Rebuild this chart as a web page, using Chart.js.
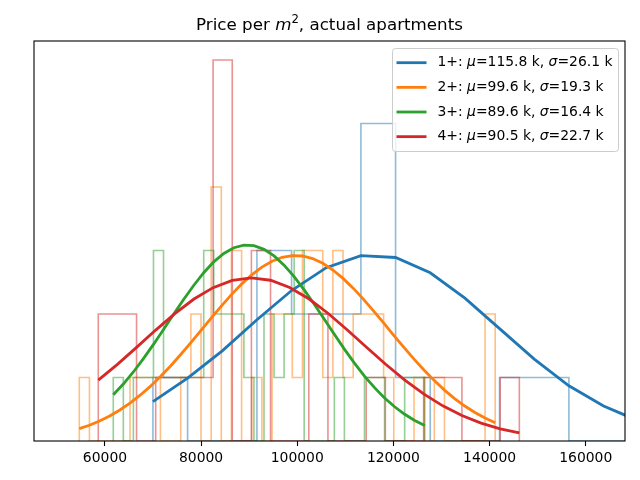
<!DOCTYPE html>
<html>
<head>
<meta charset="utf-8">
<script src="https://cdn.jsdelivr.net/npm/chart.js@4.4.0/dist/chart.umd.min.js"></script>
<style>
  html, body { margin: 0; padding: 0; background: #fff; }
</style>
</head>
<body>
<canvas id="chart" width="640" height="480"></canvas>
<script>
/* ── Data ────────────────────────────────────────────────────── */
const xTicks = [60000, 80000, 100000, 120000, 140000, 160000];
const groups = ["1+", "2+", "3+", "4+"];
const means = ["115.8", "99.6", "89.6", "90.5"];
const sigmas = ["26.1", "19.3", "16.4", "22.7"];

// histogram bins: first edge, bin width, counts per bin
const blueStart = 69980, blueWidth = 7210;
const blueCounts = [1, 0, 0, 3, 2, 2, 5, 1, 0, 0, 1, 1, 0, 0];
const orangeStart = 54660, orangeWidth = 2110;
const orangeCounts = [1, 0, 0, 0, 0, 1, 1, 1, 0, 0, 1, 2, 0, 4, 0, 3, 0, 1, 0, 2,
    2, 1, 3, 3, 1, 3, 1, 2, 2, 2, 1, 0, 0, 1, 0, 1, 0, 0, 0, 0, 2];
const greenStart = 61730, greenWidth = 2090;
const greenCounts = [1, 0, 1, 1, 3, 1, 1, 1, 1, 3, 2, 2, 2, 1, 0, 2, 1, 2, 3, 0,
    0, 0, 1, 0, 0, 1, 1, 0, 0, 1, 1];
const redStart = 58610, redWidth = 3981;
const redCounts = [2, 2, 0, 1, 1, 1, 6, 0, 3, 0, 0, 2, 0, 0, 1, 0, 0, 1, 1, 0, 0, 1];

// fitted normal curves, sampled at each bin edge (same units as counts)
const blueFit = [0.62, 0.99, 1.42, 1.91, 2.37, 2.73, 2.92, 2.89, 2.65, 2.25, 1.77,
    1.29, 0.87, 0.55, 0.32];
const orangeFit = [0.194, 0.248, 0.315, 0.394, 0.488, 0.597, 0.721, 0.860, 1.015,
    1.182, 1.362, 1.550, 1.743, 1.936, 2.125, 2.305, 2.471, 2.617, 2.738, 2.832,
    2.894, 2.921, 2.914, 2.873, 2.798, 2.693, 2.561, 2.407, 2.234, 2.050, 1.859,
    1.665, 1.474, 1.289, 1.114, 0.951, 0.802, 0.669, 0.551, 0.449, 0.361, 0.287];
const greenFit = [0.728, 0.897, 1.087, 1.297, 1.521, 1.756, 1.995, 2.229, 2.449,
    2.651, 2.822, 2.954, 3.044, 3.085, 3.077, 3.019, 2.915, 2.769, 2.588, 2.380,
    2.153, 1.917, 1.680, 1.447, 1.227, 1.023, 0.840, 0.678, 0.539, 0.421, 0.324,
    0.245];
const redFit = [0.958, 1.207, 1.475, 1.747, 2.007, 2.236, 2.415, 2.530, 2.570,
    2.532, 2.418, 2.240, 2.012, 1.753, 1.480, 1.213, 0.963, 0.742, 0.554, 0.401,
    0.282, 0.192, 0.127];

const X_MIN = 45240, X_MAX = 168170, Y_MAX = 6.3;

/* ── Colours (matplotlib tab10) ──────────────────────────────── */
const COLORS = ["#1f77b4", "#ff7f0e", "#2ca02c", "#d62728"];

function hexAlpha(hex, a) {
    const r = parseInt(hex.slice(1, 3), 16);
    const g = parseInt(hex.slice(3, 5), 16);
    const b = parseInt(hex.slice(5, 7), 16);
    return `rgba(${r},${g},${b},${a})`;
}

// step outline of a histogram: up at first edge, across each bin, down at last edge
function histPoints(start, width, counts) {
    const pts = [{ x: start, y: 0 }];
    counts.forEach((c, i) => pts.push({ x: start + i * width, y: c }));
    pts.push({ x: start + counts.length * width, y: 0 });
    return pts;
}

function fitPoints(start, width, vals) {
    return vals.map((v, i) => ({ x: start + i * width, y: v }));
}

const series = [
    { start: blueStart, width: blueWidth, counts: blueCounts, fit: blueFit },
    { start: orangeStart, width: orangeWidth, counts: orangeCounts, fit: orangeFit },
    { start: greenStart, width: greenWidth, counts: greenCounts, fit: greenFit },
    { start: redStart, width: redWidth, counts: redCounts, fit: redFit },
];

const datasets = [];
series.forEach((s, i) => {
    datasets.push({
        data: histPoints(s.start, s.width, s.counts),
        borderColor: hexAlpha(COLORS[i], 0.5),
        borderWidth: 1.6,
        stepped: true,
        pointRadius: 0,
        fill: false,
        order: 8 - i,
    });
    datasets.push({
        data: fitPoints(s.start, s.width, s.fit),
        borderColor: COLORS[i],
        borderWidth: 2.8,
        tension: 0,
        pointRadius: 0,
        fill: false,
        order: 4 - i,
    });
});

/* ── Text helpers (mixed roman / italic pieces) ──────────────── */
function drawPieces(ctx, parts, x, y, align) {
    let total = 0;
    parts.forEach(p => { ctx.font = p.font; p.w = ctx.measureText(p.text).width; total += p.w; });
    let cx = align === "center" ? x - total / 2 : x;
    parts.forEach(p => {
        ctx.font = p.font;
        ctx.fillText(p.text, cx, y + (p.dy || 0));
        cx += p.w;
    });
}

const FAMILY = "'DejaVu Sans', sans-serif";

const decorPlugin = {
    id: "decor",
    afterDraw(chart) {
        const { ctx, chartArea: a } = chart;
        ctx.save();

        // axes frame
        ctx.strokeStyle = "#000";
        ctx.lineWidth = 1.1;
        ctx.strokeRect(a.left, a.top, a.right - a.left, a.bottom - a.top);

        // title
        ctx.fillStyle = "#000";
        ctx.textBaseline = "alphabetic";
        const tf = `16.7px ${FAMILY}`;
        drawPieces(ctx, [
            { text: "Price per ", font: tf },
            { text: "m", font: `italic ${tf}` },
            { text: "2", font: `11.7px ${FAMILY}`, dy: -7 },
            { text: ", actual apartments", font: tf },
        ], (a.left + a.right) / 2, 30, "center");

        // legend
        const bx = 392.5, by = 48.5, bw = 226, bh = 103;
        ctx.beginPath();
        ctx.roundRect(bx, by, bw, bh, 3);
        ctx.fillStyle = "rgba(255,255,255,0.8)";
        ctx.fill();
        ctx.strokeStyle = "#cccccc";
        ctx.lineWidth = 1;
        ctx.stroke();

        const lf = `13.9px ${FAMILY}`;
        groups.forEach((g, i) => {
            const ry = 62.7 + i * 24.65;
            ctx.strokeStyle = COLORS[i];
            ctx.lineWidth = 2.8;
            ctx.beginPath();
            ctx.moveTo(396.5, ry);
            ctx.lineTo(426.5, ry);
            ctx.stroke();
            ctx.fillStyle = "#000";
            ctx.textBaseline = "middle";
            drawPieces(ctx, [
                { text: g + ": ", font: lf },
                { text: "\u03bc", font: `italic ${lf}` },
                { text: "=" + means[i] + " k, ", font: lf },
                { text: "\u03c3", font: `italic ${lf}` },
                { text: "=" + sigmas[i] + " k", font: lf },
            ], 437.5, ry, "left");
        });

        ctx.restore();
    }
};

new Chart(document.getElementById("chart"), {
    type: "line",
    data: { datasets },
    options: {
        responsive: false,
        animation: false,
        devicePixelRatio: 1,
        layout: { padding: { left: 34, right: 15, top: 41, bottom: 0 } },
        plugins: { legend: { display: false }, tooltip: { enabled: false }, title: { display: false } },
        scales: {
            x: {
                type: "linear",
                min: X_MIN,
                max: X_MAX,
                afterBuildTicks: scale => { scale.ticks = xTicks.map(v => ({ value: v })); },
                afterFit: scale => { scale.height = 39; },
                ticks: {
                    color: "#000",
                    font: { family: FAMILY, size: 13.9 },
                    padding: 4,
                    maxRotation: 0,
                    autoSkip: false,
                    callback: v => String(v),
                },
                grid: { display: true, drawOnChartArea: false, drawTicks: true, tickLength: 5, tickColor: "#000", tickWidth: 1.1 },
                border: { display: false },
            },
            y: { display: false, min: 0, max: Y_MAX },
        },
    },
    plugins: [decorPlugin],
});
</script>
</body>
</html>
